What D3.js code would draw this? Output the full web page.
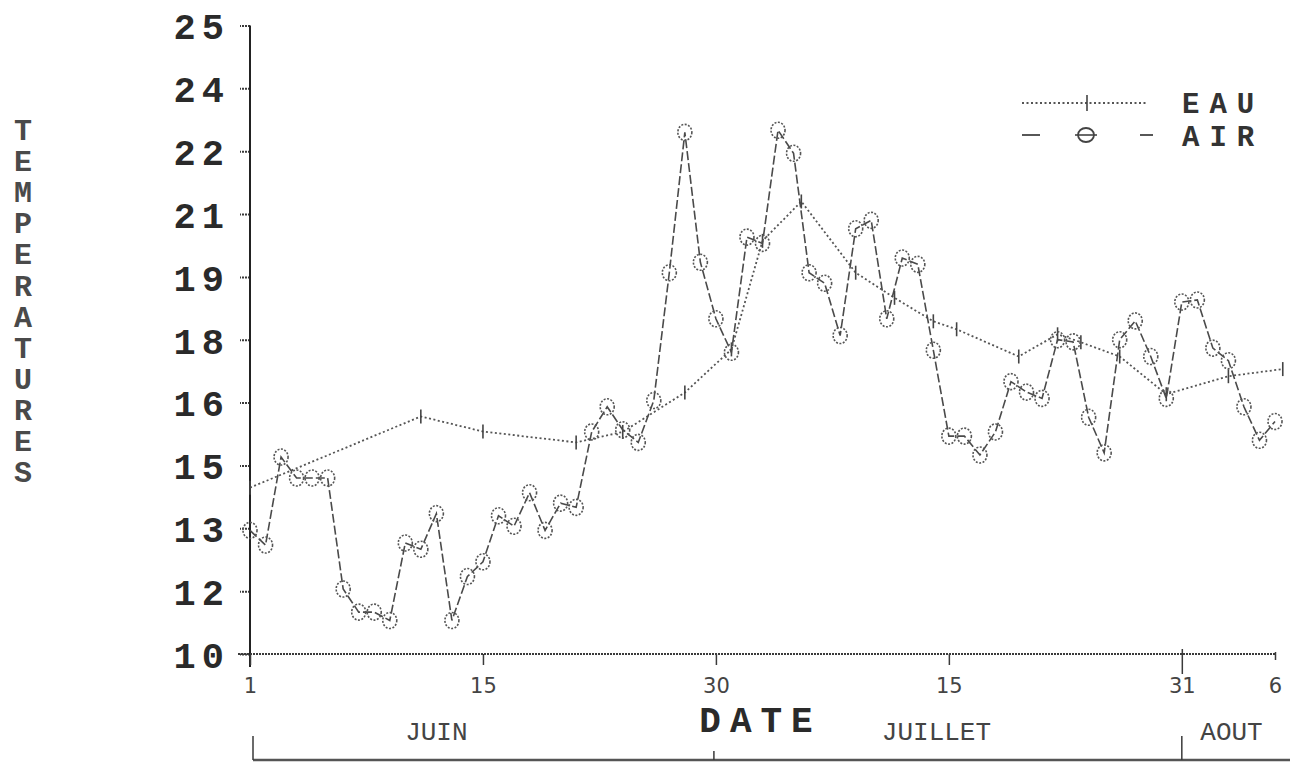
<!DOCTYPE html>
<html><head><meta charset="utf-8">
<script src="https://cdn.jsdelivr.net/npm/d3@7"></script>
<style>body{margin:0;background:#fff}</style>
</head><body><svg id="c" width="1290" height="762"></svg>
<script>
// ---- data ----
const airDays = [1,2,3,4,5,6,7,8,9,10,11,12,13,14,15,16,17,18,19,20,21,22,23,24,25,26,27,28,29,30,31,32,33,34,35,36,37,38,39,40,41,42,43,44,45,46,47,48,49,50,51,52,53,54,55,56,57,58,59,60,61,62,63,64,65,66,67];
const airValues = [12.95,12.6,14.7,14.2,14.2,14.2,11.55,11.0,11.0,10.8,12.65,12.5,13.35,10.8,11.85,12.2,13.3,13.05,13.85,12.95,13.6,13.5,15.3,15.9,15.35,15.05,16.05,19.1,22.45,19.35,18.0,17.2,19.95,19.8,22.5,21.95,19.1,18.85,17.6,20.15,20.35,18.0,19.45,19.3,17.25,15.2,15.2,14.75,15.3,16.5,16.25,16.1,17.5,17.45,15.65,14.8,17.5,17.95,17.1,16.1,18.4,18.45,17.3,17.0,15.9,15.1,15.55];
const eauDays = [1,12,16,22,25,29,32,34,36.5,40,42.5,45,46.5,50.5,53,54.5,57,60,64,67.5];
const eauValues = [13.97,15.67,15.31,15.05,15.3,16.24,17.27,19.86,20.8,19.1,18.5,17.94,17.75,17.1,17.63,17.44,17.1,16.2,16.63,16.8];
const yTickValues = [10,11.5,13,14.5,16,17.5,19,20.5,22,23.5,25];
const yTickLabels = ["10","12","13","15","16","18","19","21","22","24","25"];
const xTickDays = [1,16,31,46,61,67];
const xTickLabels = ["1","15","30","15","31","6"];
const months = ["JUIN","JUILLET","AOUT"];
const monthLabelAt = [13,45.2,64.2];
const monthBounds = [1,31,61];
const seriesNames = ["EAU","AIR"];

// ---- chart ----
const svg = d3.select("#c");
const ink = "#3a3a3a";
const x = d3.scaleLinear().domain([1,67]).range([250,1275]);
const y = d3.scaleLinear().domain([10,25]).range([654,25.5]);

// Y axis
const yAxis = svg.append("g").attr("transform","translate(250,0)")
  .call(d3.axisLeft(y).tickValues(yTickValues).tickSize(10).tickSizeOuter(0)
    .tickFormat((d,i)=>yTickLabels[i]).tickPadding(16));
yAxis.select(".domain").remove();
yAxis.selectAll(".tick line").attr("stroke",ink).attr("stroke-width",2).attr("stroke-dasharray","2,1");
yAxis.selectAll(".tick text").attr("font-family","Liberation Mono, monospace").attr("font-weight","bold")
  .attr("font-size",37).attr("letter-spacing",6).attr("fill","#2a2a2a").attr("dx",6).attr("dy","0.36em");
svg.append("line").attr("x1",250).attr("x2",250).attr("y1",y(25)).attr("y2",667)
  .attr("stroke","#222").attr("stroke-width",2);

// X axis
const xAxis = svg.append("g").attr("transform","translate(0,654)")
  .call(d3.axisBottom(x).tickValues(xTickDays).tickSize(11).tickSizeOuter(0)
    .tickFormat((d,i)=>xTickLabels[i]).tickPadding(6));
xAxis.select(".domain").attr("d","M238,0H"+x(67)).attr("stroke",ink).attr("stroke-width",2).attr("stroke-dasharray","2,1");
xAxis.selectAll(".tick line").attr("stroke",ink).attr("stroke-width",1.5);
xAxis.selectAll(".tick text").attr("font-family","DejaVu Sans, sans-serif").attr("font-size",21)
  .attr("fill","#444").attr("dy","1.05em");
xAxis.selectAll(".tick").filter(d=>d===61).select("line").attr("y1",-5).attr("y2",20);
xAxis.selectAll(".tick").filter(d=>d===67).select("line").attr("y1",-2).attr("y2",6);

// axis titles
svg.append("text").attr("x",756).attr("y",732).attr("text-anchor","middle")
  .attr("font-family","Liberation Mono, monospace").attr("font-weight","bold").attr("font-size",36)
  .attr("letter-spacing",9).attr("dx",4.5).attr("fill","#2a2a2a").text("DATE");
const yt = svg.append("text").attr("font-family","Liberation Mono, monospace").attr("font-weight","bold")
  .attr("font-size",30).attr("fill","#4a4a4a").attr("text-anchor","middle");
"TEMPERATURES".split("").forEach((ch,i)=>{
  yt.append("tspan").attr("x",23).attr("y",140+i*31.1).text(ch);
});

// month bracket
svg.append("line").attr("x1",x(1)+3).attr("x2",1290).attr("y1",760).attr("y2",760)
  .attr("stroke","#555").attr("stroke-width",2.5);
svg.selectAll("line.mb").data(monthBounds).enter().append("line").attr("class","mb")
  .attr("x1",d=>x(d)+(d===1?3:d===31?-2:0)).attr("x2",d=>x(d)+(d===1?3:d===31?-2:0))
  .attr("y1",d=>d===31?751:736).attr("y2",760).attr("stroke",ink).attr("stroke-width",1.5);
svg.selectAll("text.month").data(months).enter().append("text").attr("class","month")
  .attr("x",(d,i)=>x(monthLabelAt[i])).attr("y",740).attr("text-anchor","middle")
  .attr("font-family","Liberation Mono, monospace").attr("font-size",26).attr("fill","#444").text(d=>d);

// EAU line
const eau = eauDays.map((d,i)=>({d, v:eauValues[i]}));
const air = airDays.map((d,i)=>({d, v:airValues[i]}));
const line = d3.line().x(p=>x(p.d)).y(p=>y(p.v));
svg.append("path").datum(eau).attr("d",line).attr("fill","none").attr("stroke","#555")
  .attr("stroke-width",1.8).attr("stroke-dasharray","2,2.5");
svg.selectAll("line.eaum").data(eau).enter().append("line").attr("class","eaum")
  .attr("x1",p=>x(p.d)).attr("x2",p=>x(p.d)).attr("y1",p=>y(p.v)-7).attr("y2",p=>y(p.v)+7)
  .attr("stroke","#444").attr("stroke-width",1.6);

// AIR line
svg.append("path").datum(air).attr("d",line).attr("fill","none").attr("stroke","#4a4a4a")
  .attr("stroke-width",1.6).attr("stroke-dasharray","9,3");
svg.selectAll("ellipse.airm").data(air).enter().append("ellipse").attr("class","airm")
  .attr("cx",p=>x(p.d)).attr("cy",p=>y(p.v)).attr("rx",7).attr("ry",8)
  .attr("fill","none").attr("stroke","#555").attr("stroke-width",1.6).attr("stroke-dasharray","2,1.5");

// legend
const lg = svg.append("g");
lg.append("line").attr("x1",1022).attr("x2",1147).attr("y1",103).attr("y2",103)
  .attr("stroke","#555").attr("stroke-width",1.8).attr("stroke-dasharray","2,2.5");
lg.append("line").attr("x1",1087).attr("x2",1087).attr("y1",95).attr("y2",111).attr("stroke","#444").attr("stroke-width",1.6);
lg.append("line").attr("x1",1022).attr("x2",1040).attr("y1",135).attr("y2",135).attr("stroke","#444").attr("stroke-width",1.8);
lg.append("line").attr("x1",1140).attr("x2",1153).attr("y1",135).attr("y2",135).attr("stroke","#444").attr("stroke-width",1.8);
lg.append("line").attr("x1",1075).attr("x2",1097).attr("y1",135).attr("y2",135).attr("stroke","#444").attr("stroke-width",1.6);
lg.append("ellipse").attr("cx",1086).attr("cy",135).attr("rx",8).attr("ry",7)
  .attr("fill","none").attr("stroke","#444").attr("stroke-width",1.8);
lg.selectAll("text").data(seriesNames).enter().append("text")
  .attr("x",1182).attr("y",(d,i)=>i===0?113:146)
  .attr("font-family","Liberation Mono, monospace").attr("font-weight","bold").attr("font-size",29)
  .attr("letter-spacing",10).attr("fill","#333").text(d=>d);
</script></body></html>
